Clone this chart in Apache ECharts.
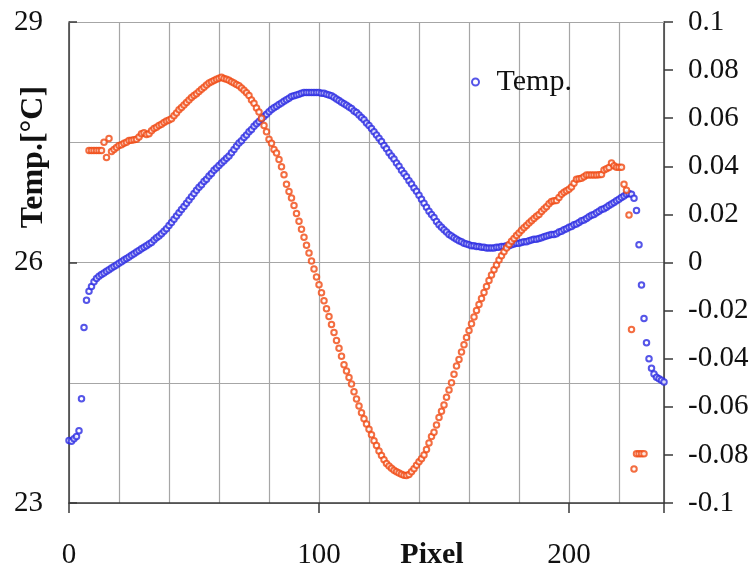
<!DOCTYPE html>
<html>
<head>
<meta charset="utf-8">
<title>Temp. profile</title>
<script src="https://cdn.jsdelivr.net/npm/echarts@6/dist/echarts.min.js"></script>
<style>
html, body { margin: 0; padding: 0; background: #fff; }
#chart { width: 756px; height: 570px; }
</style>
</head>
<body>
<div id="chart"></div>
<script>
// pixel axis
var pixelMax = 238;
var pixelTicks = [0, 100, 200];

// left axis: temperature [°C], one value per pixel starting at 0
var tempTicks = [23, 26, 29];
var tempStart = 0;
var temp = [
    23.78, 23.77, 23.80, 23.83, 23.90, 24.30, 25.19, 25.53, 25.64, 25.70,
    25.76, 25.80, 25.83, 25.85, 25.87, 25.89, 25.91, 25.93, 25.95, 25.97,
    25.99, 26.01, 26.03, 26.05, 26.07, 26.09, 26.11, 26.13, 26.15, 26.17,
    26.19, 26.21, 26.23, 26.25, 26.28, 26.31, 26.33, 26.36, 26.39, 26.42,
    26.46, 26.50, 26.54, 26.58, 26.62, 26.66, 26.70, 26.74, 26.78, 26.82,
    26.86, 26.90, 26.94, 26.97, 27.01, 27.04, 27.08, 27.11, 27.15, 27.18,
    27.21, 27.24, 27.27, 27.30, 27.33, 27.37, 27.41, 27.45, 27.49, 27.52,
    27.56, 27.59, 27.63, 27.66, 27.70, 27.73, 27.76, 27.79, 27.82, 27.85,
    27.88, 27.91, 27.93, 27.95, 27.97, 27.99, 28.01, 28.03, 28.05, 28.07,
    28.08, 28.09, 28.10, 28.11, 28.12, 28.12, 28.12, 28.12, 28.12, 28.12,
    28.12, 28.11, 28.11, 28.10, 28.09, 28.08, 28.06, 28.04, 28.02, 28.00,
    27.98, 27.96, 27.94, 27.92, 27.89, 27.87, 27.84, 27.81, 27.78, 27.74,
    27.71, 27.67, 27.63, 27.59, 27.55, 27.51, 27.46, 27.42, 27.37, 27.33,
    27.29, 27.24, 27.20, 27.15, 27.11, 27.07, 27.02, 26.98, 26.93, 26.89,
    26.84, 26.79, 26.74, 26.69, 26.64, 26.60, 26.56, 26.51, 26.47, 26.44,
    26.41, 26.38, 26.35, 26.33, 26.31, 26.29, 26.27, 26.26, 26.24, 26.23,
    26.22, 26.21, 26.21, 26.20, 26.20, 26.19, 26.19, 26.18, 26.18, 26.18,
    26.18, 26.19, 26.19, 26.20, 26.20, 26.21, 26.21, 26.22, 26.23, 26.24,
    26.24, 26.25, 26.26, 26.26, 26.27, 26.28, 26.29, 26.29, 26.30, 26.31,
    26.32, 26.33, 26.34, 26.35, 26.35, 26.36, 26.38, 26.39, 26.41, 26.42,
    26.44, 26.45, 26.47, 26.48, 26.50, 26.52, 26.53, 26.55, 26.57, 26.59,
    26.60, 26.62, 26.64, 26.66, 26.67, 26.69, 26.71, 26.73, 26.75, 26.77,
    26.79, 26.81, 26.83, 26.85, 26.86, 26.85, 26.80, 26.65, 26.22, 25.72,
    25.30, 25.00, 24.80, 24.68, 24.61, 24.57, 24.55, 24.53, 24.51
];

// right axis: second (orange) series, one value per pixel starting at 8
var deltaTicks = [-0.1, -0.08, -0.06, -0.04, -0.02, 0, 0.02, 0.04, 0.06, 0.08, 0.1];
var deltaStart = 8;
var delta = [
    0.0466, 0.0466, 0.0466, 0.0466, 0.0466, 0.0466,
    0.0500, 0.0437, 0.0516, 0.0462, 0.0470, 0.0478, 0.0486, 0.0490, 0.0496, 0.0500,
    0.0507, 0.0508, 0.0510, 0.0512, 0.0522, 0.0535, 0.0540, 0.0532, 0.0535, 0.0548,
    0.0557, 0.0562, 0.0570, 0.0575, 0.0582, 0.0588, 0.0593, 0.0598, 0.0610, 0.0622,
    0.0635, 0.0645, 0.0655, 0.0665, 0.0676, 0.0686, 0.0694, 0.0702, 0.0711, 0.0720,
    0.0729, 0.0738, 0.0746, 0.0752, 0.0757, 0.0762, 0.0766, 0.0770, 0.0765, 0.0762,
    0.0758, 0.0752, 0.0746, 0.0740, 0.0735, 0.0726, 0.0716, 0.0706, 0.0694, 0.0676,
    0.0662, 0.0642, 0.0626, 0.0600, 0.0570, 0.0544, 0.0512, 0.0496, 0.0470, 0.0455,
    0.0428, 0.0398, 0.0365, 0.0325, 0.0295, 0.0268, 0.0237, 0.0204, 0.0171, 0.0138,
    0.0105, 0.0072, 0.0039, 0.0006, -0.0027, -0.0060, -0.0093, -0.0126, -0.0159, -0.0192,
    -0.0225, -0.0258, -0.0291, -0.0324, -0.0357, -0.0390, -0.0425, -0.0451, -0.0478, -0.0505,
    -0.0537, -0.0568, -0.0597, -0.0625, -0.0650, -0.0672, -0.0693, -0.0716, -0.0741, -0.0761,
    -0.0784, -0.0802, -0.0820, -0.0836, -0.0846, -0.0856, -0.0864, -0.0870, -0.0875, -0.0880,
    -0.0885, -0.0886, -0.0882, -0.0870, -0.0858, -0.0843, -0.0828, -0.0816, -0.0800, -0.0778,
    -0.0750, -0.0724, -0.0706, -0.0676, -0.0645, -0.0618, -0.0593, -0.0560, -0.0530, -0.0500,
    -0.0465, -0.0430, -0.0403, -0.0372, -0.0342, -0.0312, -0.0283, -0.0255, -0.0227, -0.0200,
    -0.0175, -0.0150, -0.0125, -0.0100, -0.0075, -0.0052, -0.0030, -0.0010, 0.0010, 0.0028,
    0.0045, 0.0060, 0.0075, 0.0088, 0.0100, 0.0112, 0.0123, 0.0134, 0.0144, 0.0154,
    0.0164, 0.0174, 0.0183, 0.0192, 0.0200, 0.0212, 0.0222, 0.0232, 0.0244, 0.0254,
    0.0257, 0.0258, 0.0270, 0.0284, 0.0292, 0.0298, 0.0305, 0.0314, 0.0330, 0.0346,
    0.0348, 0.0350, 0.0357, 0.0364, 0.0364, 0.0364, 0.0364, 0.0364, 0.0365, 0.0366,
    0.0385, 0.0390, 0.0395, 0.0414, 0.0402, 0.0396, 0.0396, 0.0396, 0.0325, 0.0300,
    0.0198, -0.0279, -0.0859, -0.0795, -0.0795, -0.0795, -0.0795
];

var serif = '"Liberation Serif", "Times New Roman", serif';
var axisDark = '#3a3a3a';
var gridGray = '#a6a6a6';

// [pixel, value] pairs
function toPoints(start, values) {
    return values.map(function (v, i) { return [start + i, v]; });
}

var chart = echarts.init(document.getElementById('chart'));

var option = {
    animation: false,
    backgroundColor: '#fff',
    grid: { left: 69, right: 92, top: 22, bottom: 60 },
    legend: {
        data: [{ name: 'Temp.', icon: 'emptyCircle' }],
        left: 466,
        top: 62,
        itemWidth: 24,
        itemHeight: 7,
        textStyle: { fontFamily: serif, fontSize: 30, color: '#111', padding: [0, 0, 0, 4] }
    },
    graphic: [
        {
            type: 'text', x: 432, y: 555,
            style: { text: 'Pixel', font: 'bold 30px ' + serif, fill: '#111', align: 'center', verticalAlign: 'middle' }
        },
        {
            type: 'text', x: 34, y: 157, rotation: Math.PI / 2,
            style: { text: 'Temp.[°C]', font: 'bold 32px ' + serif, fill: '#111', align: 'center', verticalAlign: 'middle' }
        }
    ],
    xAxis: [
        {
            type: 'value', min: 0, max: pixelMax, interval: 100, position: 'bottom',
            axisLine: { onZero: false, lineStyle: { color: axisDark, width: 1.5 } },
            axisTick: { show: true, length: 10, lineStyle: { color: axisDark, width: 1.5 } },
            axisLabel: { customValues: pixelTicks, margin: 38, fontFamily: serif, fontSize: 29, color: '#111' },
            splitLine: { show: false }
        },
        {
            // vertical grid every 20 pixels, top border
            type: 'value', min: 0, max: pixelMax, interval: 20, position: 'top',
            axisLine: { show: true, onZero: false, lineStyle: { color: gridGray, width: 1.2 } },
            axisTick: { show: false },
            axisLabel: { show: false },
            splitLine: { show: true, lineStyle: { color: gridGray, width: 1.2 } }
        }
    ],
    yAxis: [
        {
            type: 'value', min: 23, max: 29, interval: 3, position: 'left',
            axisLine: { show: true, onZero: false, lineStyle: { color: axisDark, width: 1.5 } },
            axisTick: { show: true, inside: true, length: 8, lineStyle: { color: axisDark, width: 1.5 } },
            axisLabel: { customValues: tempTicks, margin: 26, fontFamily: serif, fontSize: 29, color: '#111' },
            splitLine: { show: false }
        },
        {
            type: 'value', min: -0.1, max: 0.1, interval: 0.02, position: 'right',
            axisLine: { show: true, onZero: false, lineStyle: { color: axisDark, width: 1.5 } },
            axisTick: { show: true, inside: false, length: 9, lineStyle: { color: axisDark, width: 1.5 } },
            axisLabel: {
                customValues: deltaTicks, margin: 24, fontFamily: serif, fontSize: 29, color: '#111',
                formatter: function (v) { return String(+v.toFixed(2)); }
            },
            splitLine: { show: false }
        },
        {
            // horizontal grid every 1.5 °C
            type: 'value', min: 0, max: 6, interval: 1.5, position: 'left',
            axisLine: { show: false, onZero: false }, axisTick: { show: false }, axisLabel: { show: false },
            splitLine: { show: true, lineStyle: { color: gridGray, width: 1.2 } }
        }
    ],
    series: [
        {
            name: 'Temp.', type: 'scatter', xAxisIndex: 0, yAxisIndex: 0,
            symbol: 'emptyCircle', symbolSize: 5.5,
            itemStyle: { color: '#2a2ae2', borderWidth: 1.3 },
            data: toPoints(tempStart, temp)
        },
        {
            name: 'dT', type: 'scatter', xAxisIndex: 0, yAxisIndex: 1,
            symbol: 'emptyCircle', symbolSize: 5.5,
            itemStyle: { color: '#f04812', borderWidth: 1.3 },
            data: toPoints(deltaStart, delta)
        }
    ]
};

chart.setOption(option);
</script>
</body>
</html>
